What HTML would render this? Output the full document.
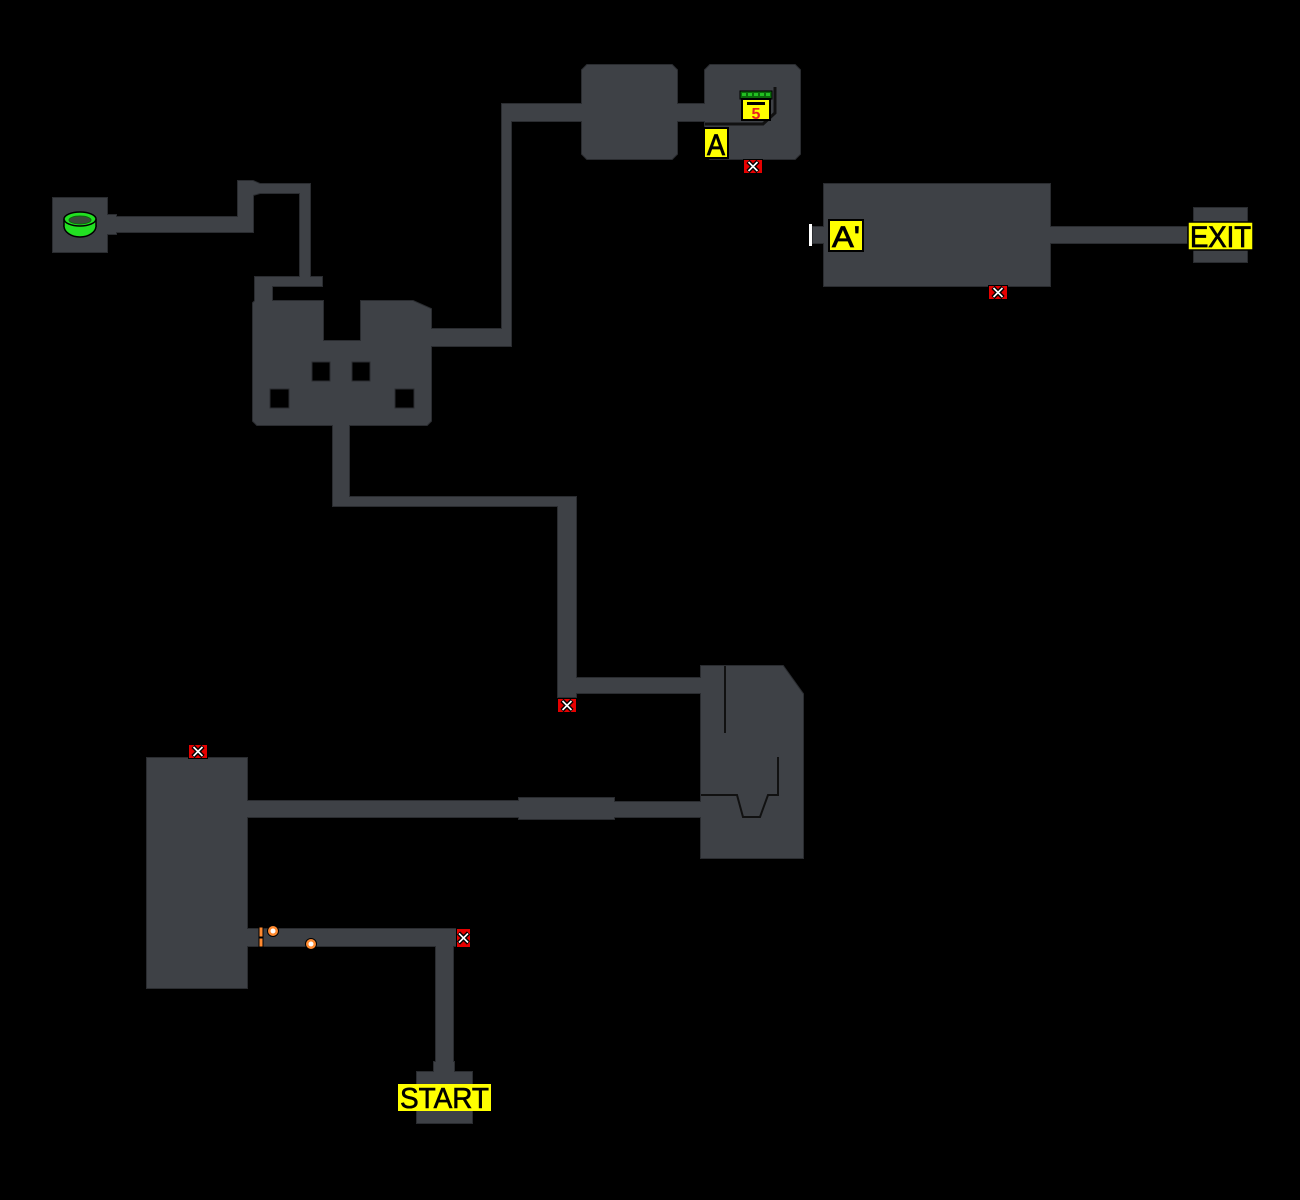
<!DOCTYPE html>
<html><head><meta charset="utf-8"><style>
html,body{margin:0;padding:0;background:#000;}
svg{display:block;}
text{font-family:"Liberation Sans",sans-serif;}
</style></head><body>
<svg width="1300" height="1200" viewBox="0 0 1300 1200" xmlns="http://www.w3.org/2000/svg">
<rect width="1300" height="1200" fill="#000"/>
<defs>
<g id="map">
<rect x="53" y="198" width="54" height="54"/>
<rect x="107" y="215" width="9" height="19"/>
<rect x="107" y="217" width="146" height="15"/>
<rect x="238" y="182" width="15" height="50"/>
<polygon points="238,181 253,181 260,184 260,193 253,195 238,195"/>
<rect x="253" y="184" width="57" height="9"/>
<rect x="300" y="184" width="10" height="102"/>
<rect x="255" y="277" width="67" height="9"/>
<rect x="255" y="277" width="17" height="26"/>
<polygon points="253,303 255,301 323,301 323,341 361,341 361,301 413,301 431,309 431,421 427,425 257,425 253,421"/>
<rect x="431" y="329" width="80" height="17"/>
<rect x="502" y="104" width="9" height="242"/>
<rect x="502" y="104" width="82" height="17"/>
<polygon points="587,65 672,65 677,70 677,154 672,159 587,159 582,154 582,70"/>
<rect x="677" y="104" width="30" height="17"/>
<polygon points="710,65 795,65 800,70 800,154 795,159 710,159 705,154 705,70"/>
<rect x="333" y="425" width="16" height="81"/>
<rect x="333" y="497" width="243" height="9"/>
<rect x="558" y="497" width="18" height="200"/>
<rect x="558" y="678" width="144" height="15"/>
<polygon points="701,666 783,666 803,694 803,858 701,858"/>
<rect x="247" y="801" width="272" height="16"/>
<rect x="519" y="798" width="95" height="21"/>
<rect x="614" y="802" width="88" height="15"/>
<rect x="147" y="758" width="100" height="230"/>
<rect x="247" y="929" width="210" height="17"/>
<rect x="436" y="929" width="17" height="133"/>
<rect x="434" y="1062" width="20" height="10"/>
<rect x="417" y="1072" width="55" height="51"/>
<rect x="824" y="184" width="226" height="102"/>
<rect x="813" y="227" width="11" height="16"/>
<rect x="1050" y="227" width="137" height="16"/>
<rect x="1194" y="208" width="53" height="54"/>
</g>
<g id="rx">
<rect x="0.5" y="0.5" width="19" height="14" fill="#e60000" stroke="#000" stroke-width="1"/>
<path d="M5,2.5 L15,12.5 M15,2.5 L5,12.5" stroke="#000" stroke-width="4.5"/>
<path d="M5.5,3 L14.5,12 M14.5,3 L5.5,12" stroke="#fff" stroke-width="1.6"/>
</g>
</defs>
<use href="#map" fill="#3e4146" stroke="#2a2c30" stroke-width="2"/>
<use href="#map" fill="#3e4146" stroke="none"/>

<!-- holes -->
<g fill="#000" stroke="#2a2c30" stroke-width="1">
<rect x="312" y="362" width="18" height="19"/>
<rect x="352" y="362" width="18" height="19"/>
<rect x="270" y="389" width="19" height="19"/>
<rect x="395" y="389" width="19" height="19"/>
</g>

<!-- inner walls -->
<polyline points="705,124 763,124 775,113 775,87" fill="none" stroke="#111" stroke-width="3"/>
<line x1="725" y1="666" x2="725" y2="733" stroke="#111" stroke-width="2"/>
<polyline points="701,795 737,795 743,817 760,817 768,795 778,795 778,757" fill="none" stroke="#111" stroke-width="2"/>

<!-- green ring -->
<ellipse cx="80" cy="226" rx="16" ry="11" fill="#22e022" stroke="#000" stroke-width="1.5"/>
<rect x="64" y="219" width="32" height="8" fill="#22e022"/>
<line x1="64" y1="219" x2="64" y2="227" stroke="#000" stroke-width="1.5"/>
<line x1="96" y1="219" x2="96" y2="227" stroke="#000" stroke-width="1.5"/>
<ellipse cx="80" cy="219" rx="16" ry="7" fill="#22e022" stroke="#000" stroke-width="1.5"/>
<ellipse cx="80" cy="220" rx="11" ry="4" fill="#3a4a3a" stroke="#0a6a0a" stroke-width="1"/>

<!-- 5 icon -->
<rect x="740" y="91" width="32" height="8" fill="#0a6a0a" stroke="#000" stroke-width="1"/>
<g fill="#22c022"><rect x="742" y="93" width="4" height="3"/><rect x="748" y="93" width="4" height="3"/><rect x="754" y="93" width="4" height="3"/><rect x="760" y="93" width="4" height="3"/><rect x="766" y="93" width="4" height="3"/></g>
<rect x="742" y="99" width="28" height="21" fill="#ffff00" stroke="#000" stroke-width="2"/>
<rect x="747" y="102" width="18" height="3" fill="#000"/>
<text x="756" y="119" font-size="16" font-weight="bold" fill="#e82020" text-anchor="middle">5</text>

<!-- labels -->
<rect x="704" y="128" width="24" height="30" fill="#ffff00" stroke="#000" stroke-width="2"/>
<text x="716" y="155" font-size="30" text-anchor="middle" fill="#000" stroke="#000" stroke-width="0.8" textLength="18" lengthAdjust="spacingAndGlyphs">A</text>
<rect x="829" y="220" width="34" height="31" fill="#ffff00" stroke="#000" stroke-width="2"/>
<text x="832" y="247" font-size="30" fill="#000" stroke="#000" stroke-width="0.8" textLength="28" lengthAdjust="spacingAndGlyphs">A'</text>
<rect x="809" y="224" width="3" height="22" fill="#fff"/>
<rect x="1188" y="222" width="65" height="28" fill="#ffff00" stroke="#000" stroke-width="1.5"/>
<text x="1190" y="247" font-size="30" fill="#000" stroke="#000" stroke-width="0.8" textLength="61" lengthAdjust="spacingAndGlyphs">EXIT</text>
<rect x="398" y="1084" width="93" height="27" fill="#ffff00"/>
<text x="400" y="1108" font-size="29" fill="#000" stroke="#000" stroke-width="0.6" textLength="89" lengthAdjust="spacingAndGlyphs">START</text>

<!-- red x markers -->
<use href="#rx" x="743" y="159"/>
<use href="#rx" x="988" y="285"/>
<use href="#rx" x="557" y="698"/>
<use href="#rx" x="188" y="744"/>
<g transform="translate(471,928) rotate(90)"><use href="#rx"/></g>

<!-- orange doors -->
<rect x="259" y="927" width="4" height="10" fill="#ff8a30" stroke="#000" stroke-width="1"/>
<rect x="259" y="938" width="4" height="9" fill="#ff8a30" stroke="#000" stroke-width="1"/>
<circle cx="273" cy="931" r="5.5" fill="#ff8a30" stroke="#000" stroke-width="1"/>
<circle cx="273" cy="931" r="2.5" fill="#fff"/>
<circle cx="311" cy="944" r="5.5" fill="#ff8a30" stroke="#000" stroke-width="1"/>
<circle cx="311" cy="944" r="2.5" fill="#fff"/>
</svg>
</body></html>
